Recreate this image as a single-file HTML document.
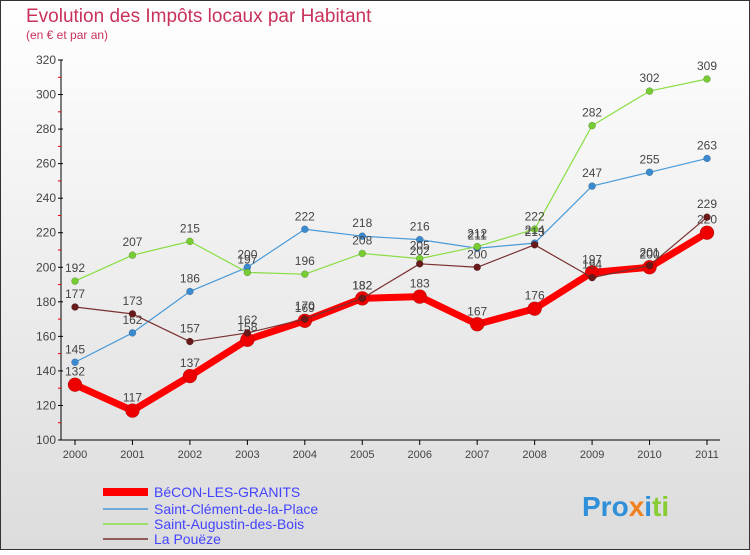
<!DOCTYPE html>
<html><head><meta charset="utf-8"><style>
body{margin:0}
#c{width:750px;height:550px;position:relative;font-family:"Liberation Sans",sans-serif}
</style></head><body>
<div id="c">
<svg id="s" width="750" height="550" xmlns="http://www.w3.org/2000/svg">
<defs><linearGradient id="bg" x1="0" y1="0" x2="0" y2="1"><stop offset="0" stop-color="#ffffff"/><stop offset="1" stop-color="#dcdcdc"/></linearGradient></defs>
<rect x="0.5" y="0.5" width="749" height="549" fill="url(#bg)" stroke="#333"/>
<text x="26" y="22" font-size="19" fill="#c8325a">Evolution des Impôts locaux par Habitant</text>
<text x="26" y="39" font-size="12" fill="#c8325a">(en € et par an)</text>
<g id="axes"></g><g id="series"></g>
<g font-size="14">
<line x1="103" y1="492" x2="148" y2="492" stroke="#ff0000" stroke-width="8"/>
<text x="154" y="497" fill="#4444ff">BéCON-LES-GRANITS</text>
<line x1="103" y1="509" x2="148" y2="509" stroke="#4a9ad8" stroke-width="1.5"/>
<text x="154" y="514" fill="#4444ff">Saint-Clément-de-la-Place</text>
<line x1="103" y1="524" x2="148" y2="524" stroke="#88dd44" stroke-width="1.5"/>
<text x="154" y="529" fill="#4444ff">Saint-Augustin-des-Bois</text>
<line x1="103" y1="539" x2="148" y2="539" stroke="#7a3030" stroke-width="1.5"/>
<text x="154" y="544" fill="#4444ff">La Pouëze</text>
</g>
<text x="582" y="516" font-size="28" font-weight="bold"><tspan fill="#2f8fd8">Pro</tspan><tspan fill="#f08020">x</tspan><tspan fill="#2f8fd8">i</tspan><tspan fill="#88cc33">ti</tspan></text>
</svg></div>
<script>
const years=["2000","2001","2002","2003","2004","2005","2006","2007","2008","2009","2010","2011"];
const yTicks=[100,120,140,160,180,200,220,240,260,280,300,320];
const becon=[132,117,137,158,169,182,183,167,176,197,200,220];
const clement=[145,162,186,200,222,218,216,211,214,247,255,263];
const augustin=[192,207,215,197,196,208,205,212,222,282,302,309];
const poueze=[177,173,157,162,170,182,202,200,213,194,201,229];
const NS="http://www.w3.org/2000/svg";
const X=i=>75+i*(707-75)/11;
const Y=v=>440-(v-100)*380/220;
function mk(t,a,p){const e=document.createElementNS(NS,t);for(const k in a)e.setAttribute(k,a[k]);p.appendChild(e);return e;}
const ax=document.getElementById('axes');
let e=mk('line',{x1:62,y1:440,x2:720,y2:440,stroke:'#000'},ax);


e=mk('line',{x1:61,y1:60,x2:61,y2:440,stroke:'#000'},ax);


yTicks.forEach(v=>{
 let l=mk('line',{x1:58,y1:Y(v),x2:63,y2:Y(v),stroke:'#000'},ax);
 
 
 if(v<320){let m=mk('line',{x1:58,y1:Y(v+10),x2:61,y2:Y(v+10),stroke:'#d00'},ax);
 
 }
 let t=mk('text',{x:56,y:Y(v)+4,'text-anchor':'end','font-size':12,fill:'#444'},ax);t.textContent=v;
 
 
});
years.forEach((y,i)=>{
 let l=mk('line',{x1:X(i),y1:440,x2:X(i),y2:445,stroke:'#000'},ax);
 
 
 let t=mk('text',{x:X(i),y:458,'text-anchor':'middle','font-size':11,fill:'#444'},ax);t.textContent=y;
 
 
});
const sg=document.getElementById('series');
function draw(name,vals,color,w,r,pc){
 const g=mk('g',{},sg);
 
 
 const p=mk('polyline',{points:vals.map((v,i)=>X(i)+','+Y(v)).join(' '),fill:'none',stroke:color,'stroke-width':w,'stroke-linejoin':'round'},g);
 
 
 vals.forEach((v,i)=>{
  const c=mk('circle',{cx:X(i),cy:Y(v),r:r,fill:pc,stroke:'rgba(0,0,0,0.3)','stroke-width':0.5},g);
  
  
  const t=mk('text',{x:X(i),y:Y(v)-9,'text-anchor':'middle','font-size':12,fill:'#444'},g);t.textContent=v;
  
  
 });
}
draw('saint-clement',clement,'#4a9ad8',1.2,3.5,'#3a8ad0');
draw('saint-augustin',augustin,'#88dd44',1.2,3.5,'#77cc33');
draw('becon',becon,'#ff0000',7,7,'#ee0000');
draw('la-poueze',poueze,'#7a3030',1.2,3.5,'#6a1a1a');
</script>
</body></html>
